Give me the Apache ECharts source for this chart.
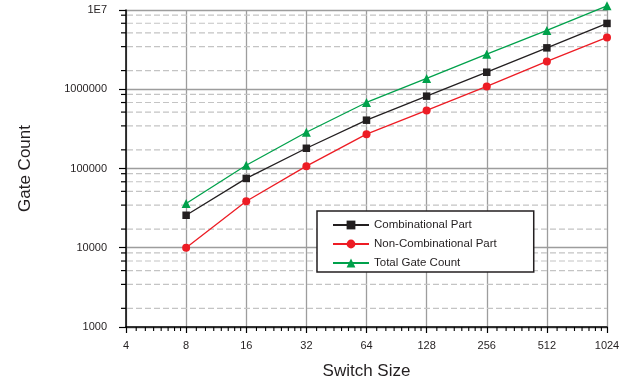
<!DOCTYPE html>
<html>
<head>
<meta charset="utf-8">
<script src="https://cdn.jsdelivr.net/npm/echarts@6/dist/echarts.min.js"></script>
<style>html,body{margin:0;padding:0;background:#fff;}#c{width:634px;height:383px;}</style>
</head>
<body>
<div id="c"></div>
<script>
// ---- data ----
const switchSizes = [8, 16, 32, 64, 128, 256, 512, 1024];
const combinational = [25700, 75000, 180000, 407000, 818000, 1640000, 3330000, 6770000];
const nonCombinational = [10000, 38600, 107000, 271000, 540000, 1084000, 2244000, 4510000];
const totalGates = [36100, 110000, 287000, 681000, 1368000, 2773000, 5525000, 11300000];
const seriesNames = ['Combinational Part', 'Non-Combinational Part', 'Total Gate Count'];

const yTickValues = [1000, 10000, 100000, 1000000, 10000000];
const yTickLabels = ['1000', '10000', '100000', '1000000', '1E7'];
const xTickValues = [4, 8, 16, 32, 64, 128, 256, 512, 1024];
const xTickLabels = ['4', '8', '16', '32', '64', '128', '256', '512', '1024'];

// minor grid / tick positions
const yDecades = [1000, 10000, 100000, 1000000];
const yMinorFactors = [1.72, 3.45, 5.15, 6.8, 8.6];
const xOctaves = [4, 8, 16, 32, 64, 128, 256, 512];
const xMinorFractions = [1.125, 1.25, 1.375, 1.5, 1.625, 1.75, 1.875];

const X_MIN = 4, X_MAX = 1024, Y_MIN = 1000, Y_MAX = 10000000;
const ink = '#231f20';
const font = 'Liberation Sans, Arial, Helvetica, sans-serif';

const yMinorData = [];
yDecades.forEach(d => yMinorFactors.forEach(f => yMinorData.push([X_MIN, d * f])));
const xMinorData = [];
xOctaves.forEach(o => xMinorFractions.forEach(f => xMinorData.push([o * f, Y_MIN])));

function zip(xs, ys) { return xs.map((x, i) => [x, ys[i]]); }
function lookup(vals, labels, v) {
  for (let i = 0; i < vals.length; i++) {
    if (Math.abs(vals[i] - v) / vals[i] < 1e-6) return labels[i];
  }
  return '';
}

const chart = echarts.init(document.getElementById('c'), null, { renderer: 'canvas' });
chart.setOption({
  animation: false,
  backgroundColor: '#fff',
  textStyle: { fontFamily: font },
  grid: { left: 126, right: 27, top: 10, bottom: 56, containLabel: false, outerBoundsMode: 'none' },
  legend: {
    data: seriesNames,
    orient: 'vertical',
    left: 317,
    top: 211,
    padding: [8, 37, 3, 15],
    itemWidth: 36,
    itemHeight: 11,
    itemGap: 7,
    backgroundColor: '#fff',
    borderColor: ink,
    borderWidth: 1.5,
    borderRadius: 0,
    textStyle: { color: ink, fontSize: 11.5, fontFamily: font }
  },
  xAxis: {
    type: 'log',
    logBase: 2,
    min: X_MIN,
    max: X_MAX,
    name: 'Switch Size',
    nameLocation: 'middle',
    nameGap: 36,
    nameTextStyle: { color: ink, fontSize: 17, fontFamily: font },
    axisLine: { show: true, lineStyle: { color: '#000', width: 1.5 } },
    axisTick: { show: true, inside: false, length: 6, lineStyle: { color: '#000', width: 1.2 } },
    axisLabel: {
      color: ink, fontSize: 11, margin: 13, fontFamily: font,
      formatter: v => lookup(xTickValues, xTickLabels, v)
    },
    splitLine: { show: true, lineStyle: { color: '#9d9d9d', width: 1.3 } },
    minorTick: { show: false },
    minorSplitLine: { show: false }
  },
  yAxis: {
    type: 'log',
    logBase: 10,
    min: Y_MIN,
    max: Y_MAX,
    name: 'Gate Count',
    nameLocation: 'middle',
    nameGap: 92,
    nameRotate: 90,
    nameTextStyle: { color: ink, fontSize: 17, fontFamily: font },
    axisLine: { show: true, lineStyle: { color: '#000', width: 1.5 } },
    axisTick: { show: true, inside: false, length: 7, lineStyle: { color: '#000', width: 1.2 } },
    axisLabel: {
      color: ink, fontSize: 11, margin: 19, fontFamily: font,
      formatter: v => lookup(yTickValues, yTickLabels, v)
    },
    splitLine: { show: true, lineStyle: { color: '#9d9d9d', width: 1.3 } },
    minorTick: { show: false },
    minorSplitLine: { show: false }
  },
  series: [
    {
      type: 'custom',
      name: 'yMinor',
      z: 1,
      silent: true,
      coordinateSystem: 'cartesian2d',
      data: yMinorData,
      renderItem: function (params, api) {
        const v = api.value(1);
        const p0 = api.coord([X_MIN, v]);
        const p1 = api.coord([X_MAX, v]);
        return {
          type: 'group',
          children: [
            { type: 'line', shape: { x1: p0[0] + 1, y1: p0[1], x2: p1[0], y2: p1[1] },
              style: { stroke: '#c4c4c4', lineWidth: 1.2, lineDash: [6, 3] } },
            { type: 'line', shape: { x1: p0[0] - 5, y1: p0[1], x2: p0[0], y2: p0[1] },
              style: { stroke: '#000', lineWidth: 1.2 } }
          ]
        };
      }
    },
    {
      type: 'custom',
      name: 'xMinor',
      z: 1,
      silent: true,
      coordinateSystem: 'cartesian2d',
      data: xMinorData,
      renderItem: function (params, api) {
        const p = api.coord([api.value(0), Y_MIN]);
        return { type: 'line', shape: { x1: p[0], y1: p[1], x2: p[0], y2: p[1] + 4 },
                 style: { stroke: '#000', lineWidth: 1.1 } };
      }
    },
    {
      name: seriesNames[0], type: 'line', z: 4, clip: false,
      data: zip(switchSizes, combinational),
      symbol: 'rect', symbolSize: 7.5,
      itemStyle: { color: ink },
      lineStyle: { color: ink, width: 1.3 }
    },
    {
      name: seriesNames[1], type: 'line', z: 4, clip: false,
      data: zip(switchSizes, nonCombinational),
      symbol: 'circle', symbolSize: 8,
      itemStyle: { color: '#ed1c24' },
      lineStyle: { color: '#ed1c24', width: 1.3 }
    },
    {
      name: seriesNames[2], type: 'line', z: 4, clip: false,
      data: zip(switchSizes, totalGates),
      symbol: 'triangle', symbolSize: 9,
      itemStyle: { color: '#00a14b' },
      lineStyle: { color: '#00a14b', width: 1.3 }
    }
  ]
});
</script>
</body>
</html>
